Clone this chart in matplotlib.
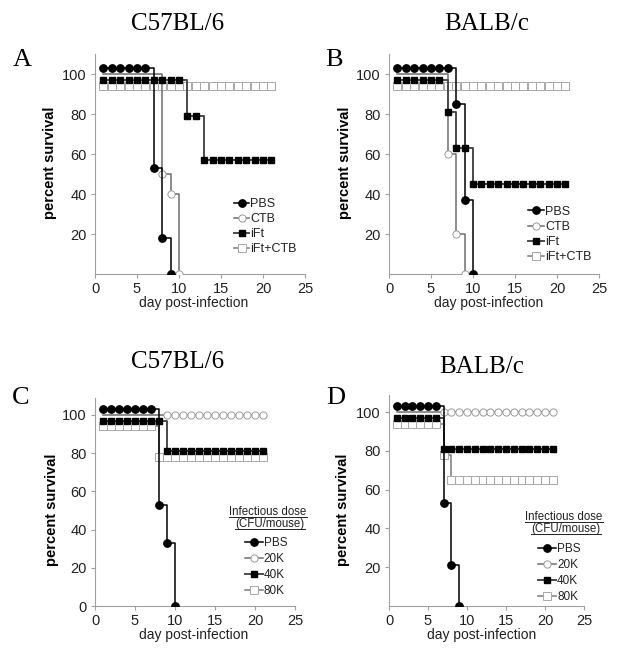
"""
Survival curves for the four challenge panels (A-D).
"""

import matplotlib
matplotlib.use("Agg")
import matplotlib.pyplot as plot
from matplotlib.lines import Line2D

WIDTH, HEIGHT = 621, 656

# panel A - C57BL/6, vaccination groups
a_pbs_days = [1, 2, 3, 4, 5, 6, 7, 8, 9]
a_pbs = [103, 103, 103, 103, 103, 103, 53, 18, 0]
a_ctb_days = [1, 2, 3, 4, 5, 6, 7, 8, 9, 10]
a_ctb = [100, 100, 100, 100, 100, 100, 100, 50, 40, 0]
a_ift_days = [1, 2, 3, 4, 5, 6, 7, 8, 9, 10, 11, 12, 13, 14, 15, 16, 17, 18, 19, 20, 21]
a_ift = [97, 97, 97, 97, 97, 97, 97, 97, 97, 97, 79, 79, 57, 57, 57, 57, 57, 57, 57, 57, 57]
a_iftctb_days = [1, 2, 3, 4, 5, 6, 7, 8, 9, 10, 11, 12, 13, 14, 15, 16, 17, 18, 19, 20, 21]
a_iftctb = [94, 94, 94, 94, 94, 94, 94, 94, 94, 94, 94, 94, 94, 94, 94, 94, 94, 94, 94, 94, 94]

# panel B - BALB/c, vaccination groups
b_pbs_days = [1, 2, 3, 4, 5, 6, 7, 8, 9, 10]
b_pbs = [103, 103, 103, 103, 103, 103, 103, 85, 37, 0]
b_ctb_days = [1, 2, 3, 4, 5, 6, 7, 8, 9]
b_ctb = [100, 100, 100, 100, 100, 100, 60, 20, 0]
b_ift_days = [1, 2, 3, 4, 5, 6, 7, 8, 9, 10, 11, 12, 13, 14, 15, 16, 17, 18, 19, 20, 21]
b_ift = [97, 97, 97, 97, 97, 97, 81, 63, 63, 45, 45, 45, 45, 45, 45, 45, 45, 45, 45, 45, 45]
b_iftctb_days = [1, 2, 3, 4, 5, 6, 7, 8, 9, 10, 11, 12, 13, 14, 15, 16, 17, 18, 19, 20, 21]
b_iftctb = [94, 94, 94, 94, 94, 94, 94, 94, 94, 94, 94, 94, 94, 94, 94, 94, 94, 94, 94, 94, 94]

# panel C - C57BL/6, infectious dose
c_pbs_days = [1, 2, 3, 4, 5, 6, 7, 8, 9, 10]
c_pbs = [103, 103, 103, 103, 103, 103, 103, 53, 33, 0]
c_20k_days = [1, 2, 3, 4, 5, 6, 7, 8, 9, 10, 11, 12, 13, 14, 15, 16, 17, 18, 19, 20, 21]
c_20k = [100, 100, 100, 100, 100, 100, 100, 100, 100, 100, 100, 100, 100, 100, 100, 100, 100, 100, 100, 100, 100]
c_40k_days = [1, 2, 3, 4, 5, 6, 7, 8, 9, 10, 11, 12, 13, 14, 15, 16, 17, 18, 19, 20, 21]
c_40k = [97, 97, 97, 97, 97, 97, 97, 97, 81, 81, 81, 81, 81, 81, 81, 81, 81, 81, 81, 81, 81]
c_80k_days = [1, 2, 3, 4, 5, 6, 7, 8, 9, 10, 11, 12, 13, 14, 15, 16, 17, 18, 19, 20, 21]
c_80k = [94, 94, 94, 94, 94, 94, 94, 78, 78, 78, 78, 78, 78, 78, 78, 78, 78, 78, 78, 78, 78]

# panel D - BALB/c, infectious dose
d_pbs_days = [1, 2, 3, 4, 5, 6, 7, 8, 9]
d_pbs = [103, 103, 103, 103, 103, 103, 53, 21, 0]
d_20k_days = [1, 2, 3, 4, 5, 6, 7, 8, 9, 10, 11, 12, 13, 14, 15, 16, 17, 18, 19, 20, 21]
d_20k = [100, 100, 100, 100, 100, 100, 100, 100, 100, 100, 100, 100, 100, 100, 100, 100, 100, 100, 100, 100, 100]
d_40k_days = [1, 2, 3, 4, 5, 6, 7, 8, 9, 10, 11, 12, 13, 14, 15, 16, 17, 18, 19, 20, 21]
d_40k = [97, 97, 97, 97, 97, 97, 81, 81, 81, 81, 81, 81, 81, 81, 81, 81, 81, 81, 81, 81, 81]
d_80k_days = [1, 2, 3, 4, 5, 6, 7, 8, 9, 10, 11, 12, 13, 14, 15, 16, 17, 18, 19, 20, 21]
d_80k = [94, 94, 94, 94, 94, 94, 78, 65, 65, 65, 65, 65, 65, 65, 65, 65, 65, 65, 65, 65, 65]

# the 100% open-circle markers are hidden under the other groups until this day
a_ctb_marked_from = 8
b_ctb_marked_from = 7
c_20k_marked_from = 9
d_20k_marked_from = 7

vaccine_labels = ["PBS", "CTB", "iFt", "iFt+CTB"]
dose_labels = ["PBS", "20K", "40K", "80K"]
x_ticks = [0, 5, 10, 15, 20, 25]

SANS = "Liberation Sans"
SERIF = "Liberation Serif"

# one style per group position: filled circle, open circle, filled square, open square
styles = [
  dict(color="black", marker="o", mfc="black", mec="black", ms=5.3, lw=1.1, zorder=5),
  dict(color="#6e6e6e", marker="o", mfc="white", mec="#999999", ms=5.2, mew=0.7, lw=1.1, zorder=3),
  dict(color="#4a4a4a", marker="s", mfc="black", mec="black", ms=5.0, lw=1.4, zorder=4),
  dict(color="#7a7a7a", marker="s", mfc="white", mec="#a8a8a8", ms=5.2, mew=0.7, lw=1.1, zorder=2),
]

figure = plot.figure(figsize=(WIDTH / 100, HEIGHT / 100), dpi=100)


def add_axes_px(left, right, zero_y, px_per_100, top_value):
  """Adds axes placed in pixel terms: left/right edges and the pixel row of y=0."""
  height = px_per_100 * top_value / 100
  return figure.add_axes([left / WIDTH, 1 - zero_y / HEIGHT,
                          (right - left) / WIDTH, height / HEIGHT])


def draw_panel(axes, series, y_ticks, top_value, marked_from):
  for index, (days, values) in enumerate(series):
    style = dict(styles[index])
    if index == 1:
      style["markevery"] = [i for i, day in enumerate(days) if day >= marked_from]
    axes.plot(days, values, drawstyle="steps-post", **style)

  axes.set_xlim(0, 25)
  axes.set_ylim(0, top_value)
  axes.set_xticks(x_ticks)
  axes.set_yticks(y_ticks)
  for side in ("top", "right"):
    axes.spines[side].set_visible(False)
  for side in ("left", "bottom"):
    axes.spines[side].set_color("#a0a0a0")
    axes.spines[side].set_linewidth(0.8)
  axes.tick_params(length=3, width=0.8, color="#a0a0a0", pad=3,
                   labelsize=10.5, labelcolor="#222222")
  for label in axes.get_xticklabels() + axes.get_yticklabels():
    label.set_fontfamily(SANS)


def add_legend(axes, labels, x, y, size, spacing, handle_length):
  handles = [Line2D([], [], **{k: v for k, v in style.items() if k != "zorder"}) for style in styles]
  legend = axes.legend(handles, labels, loc="upper left", bbox_to_anchor=(x, y),
                       frameon=False, borderpad=0, handlelength=handle_length, handletextpad=0.1,
                       labelspacing=spacing, borderaxespad=0,
                       prop={"family": SANS, "size": size})
  for text in legend.get_texts():
    text.set_color("#222222")
  return legend


def fig_text(x_px, y_px, text, **kwargs):
  return figure.text(x_px / WIDTH, 1 - y_px / HEIGHT, text, **kwargs)


axes_a = add_axes_px(95, 305, 274, 200, 110)
axes_b = add_axes_px(389, 599, 274, 200, 110)
axes_c = add_axes_px(95, 295, 606, 191, 109)
axes_d = add_axes_px(389, 584, 606, 194, 109)

draw_panel(axes_a, [(a_pbs_days, a_pbs), (a_ctb_days, a_ctb), (a_ift_days, a_ift),
                    (a_iftctb_days, a_iftctb)], [20, 40, 60, 80, 100], 110, a_ctb_marked_from)
draw_panel(axes_b, [(b_pbs_days, b_pbs), (b_ctb_days, b_ctb), (b_ift_days, b_ift),
                    (b_iftctb_days, b_iftctb)], [20, 40, 60, 80, 100], 110, b_ctb_marked_from)
draw_panel(axes_c, [(c_pbs_days, c_pbs), (c_20k_days, c_20k), (c_40k_days, c_40k),
                    (c_80k_days, c_80k)], [0, 20, 40, 60, 80, 100], 109, c_20k_marked_from)
draw_panel(axes_d, [(d_pbs_days, d_pbs), (d_20k_days, d_20k), (d_40k_days, d_40k),
                    (d_80k_days, d_80k)], [20, 40, 60, 80, 100], 109, d_20k_marked_from)

add_legend(axes_a, vaccine_labels, 0.663, 0.345, 9, 0.25, 1.2)
add_legend(axes_b, vaccine_labels, 0.66, 0.31, 9, 0.25, 1.3)
add_legend(axes_c, dose_labels, 0.75, 0.33, 8.5, 0.33, 1.5)
add_legend(axes_d, dose_labels, 0.765, 0.298, 8.5, 0.33, 1.5)

# strain titles and panel letters
for x, y, text in [(178, 24, "C57BL/6"), (487, 24, "BALB/c"), (178, 362, "C57BL/6"), (482, 367, "BALB/c")]:
  fig_text(x, y, text, ha="center", va="center", family=SERIF, fontsize=18)
for x, y, text in [(22, 60, "A"), (334, 60, "B"), (21, 398, "C"), (336, 398, "D")]:
  fig_text(x, y, text, ha="center", va="center", family=SERIF, fontsize=19)

# axis labels
for x, y in [(50, 163), (345, 163), (52, 510), (343, 510)]:
  fig_text(x, y, "percent survival", rotation=90, ha="center", va="center",
           family=SANS, fontsize=10.5, fontweight="bold")
for x, y in [(194, 303), (489, 303), (194, 635), (482, 635)]:
  fig_text(x, y, "day post-infection", ha="center", va="center", family=SANS,
           fontsize=10, color="#222222")

# underlined legend titles for the dose panels
titles = []
for x, y1, y2 in [(268, 512, 524), (564, 517, 529)]:
  titles.append(fig_text(x, y1, "Infectious dose", ha="center", va="center",
                         family=SANS, fontsize=8.3, color="#222222"))
  titles.append(fig_text(x + 2, y2, "(CFU/mouse)", ha="center", va="center",
                         family=SANS, fontsize=8.3, color="#222222"))

renderer = figure.canvas.get_renderer()
inverse = figure.transFigure.inverted()
for title in titles:
  box = title.get_window_extent(renderer).transformed(inverse)
  figure.add_artist(Line2D([box.x0, box.x1], [box.y0 + 0.001, box.y0 + 0.001],
                           color="#222222", lw=0.7, transform=figure.transFigure))

figure.savefig("out.png", dpi=100)
plot.close(figure)
